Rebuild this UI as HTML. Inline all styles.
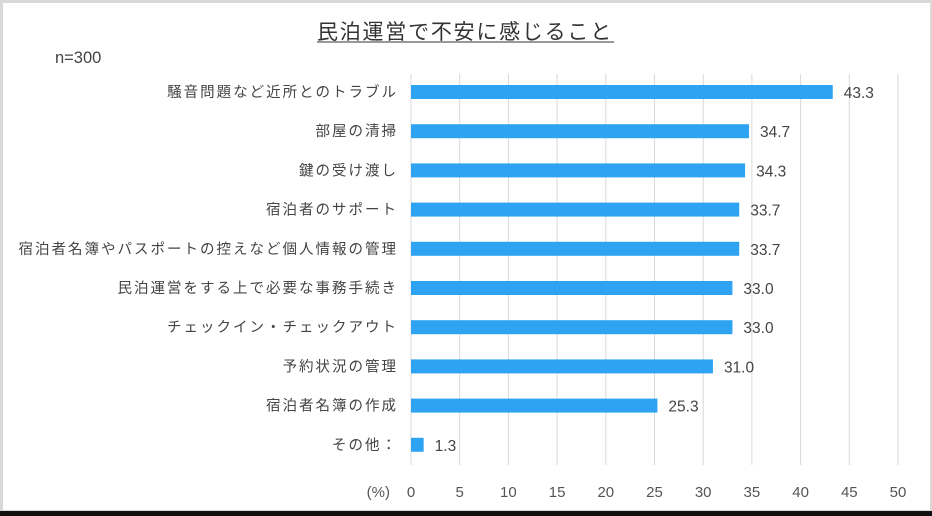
<!DOCTYPE html>
<html><head><meta charset="utf-8"><style>
body{margin:0;background:#fff}
svg{display:block}
text{font-family:"Liberation Sans","Noto Sans CJK JP",sans-serif}
</style></head><body>
<svg id="c" width="932" height="516">
<rect x="0" y="0" width="932" height="516" fill="#d9d9d9"/>
<rect x="3" y="3" width="927" height="507" fill="#fff"/>
<rect x="0" y="511" width="932" height="5" fill="#111"/>
<text x="317" y="39" font-size="21" letter-spacing="1.8" textLength="296" fill="#333">民泊運営で不安に感じること</text>
<line x1="317" y1="42" x2="614" y2="42" stroke="#333" stroke-width="1"/>
<text x="55" y="63" font-size="16.5" fill="#444">n=300</text>
<text x="390" y="497" font-size="15" fill="#555" text-anchor="end">(%)</text>
<g id="grid"></g><g id="bars"></g>
</svg>
<script>
const categories=["騒音問題など近所とのトラブル","部屋の清掃","鍵の受け渡し","宿泊者のサポート","宿泊者名簿やパスポートの控えなど個人情報の管理","民泊運営をする上で必要な事務手続き","チェックイン・チェックアウト","予約状況の管理","宿泊者名簿の作成","その他："];
const values=[43.3,34.7,34.3,33.7,33.7,33.0,33.0,31.0,25.3,1.3];
const ticks=[0,5,10,15,20,25,30,35,40,45,50];
const NS="http://www.w3.org/2000/svg";
const x=v=>411+v*9.74;
const y=i=>92+i*39.2;
function mk(t,a,p){const e=document.createElementNS(NS,t);for(const k in a)e.setAttribute(k,a[k]);p.appendChild(e);return e;}
const g=document.getElementById('grid'),b=document.getElementById('bars');
ticks.forEach(t=>{
 const l=mk('line',{x1:x(t),x2:x(t),y1:74,y2:465,stroke:'#d9d9d9','stroke-width':1},g);
 
 
 const tx=mk('text',{x:x(t),y:497,'font-size':15,fill:'#555','text-anchor':'middle'},g);
 tx.textContent=t;
 
 
});
categories.forEach((c,i)=>{
 const lb=mk('text',{x:398,y:y(i)+5,'font-size':14.5,'letter-spacing':2.0,fill:'#444','text-anchor':'end'},b);
 lb.textContent=c;
 
 
 const r=mk('rect',{x:x(0),y:y(i)-7,width:x(values[i])-x(0),height:14,fill:'#2ea3f2'},b);
 
 
 const v=mk('text',{x:x(values[i])+11,y:y(i)+6,'font-size':15.5,fill:'#444'},b);
 v.textContent=values[i].toFixed(1);
 
 
});
</script>
</body></html>
